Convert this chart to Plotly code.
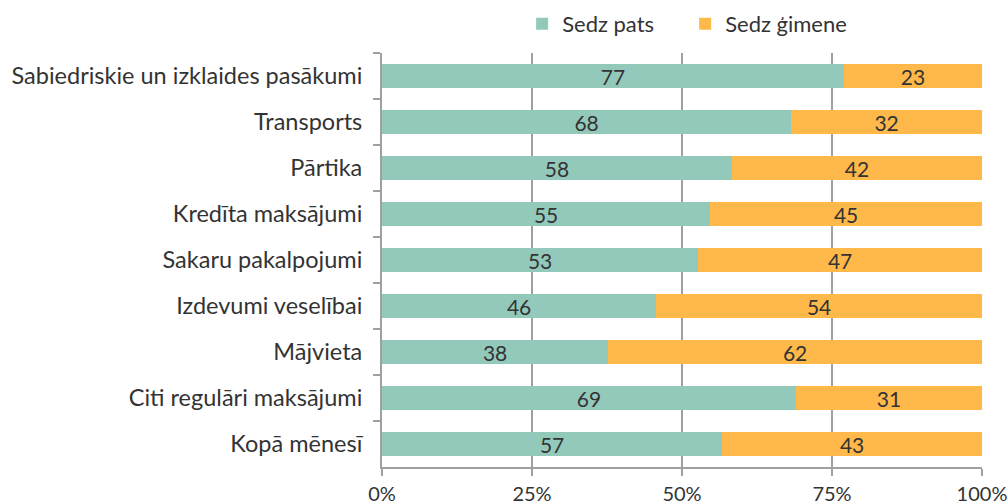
import plotly.graph_objects as go

categories = [
    "Sabiedriskie un izklaides pasākumi",
    "Transports",
    "Pārtika",
    "Kredīta maksājumi",
    "Sakaru pakalpojumi",
    "Izdevumi veselībai",
    "Mājvieta",
    "Citi regulāri maksājumi",
    "Kopā mēnesī",
]
sedz_pats = [77.0, 68.2, 58.3, 54.7, 52.7, 45.7, 37.7, 69.0, 56.7]
sedz_gimene = [23.0, 31.8, 41.7, 45.3, 47.3, 54.3, 62.3, 31.0, 43.3]
x_ticks = [0, 25, 50, 75, 100]
x_tick_labels = ["0%", "25%", "50%", "75%", "100%"]

FONT = "Source Sans Pro, Lato, sans-serif"
TEXT = "#333333"
TEAL = "#93C9BB"
ORANGE = "#FFB94A"
GRID = "#A0A0A0"

fig = go.Figure()
fig.add_trace(go.Bar(
    y=categories, x=sedz_pats, name="Sedz pats", orientation="h",
    marker=dict(color=TEAL, line=dict(width=0)),
    text=sedz_pats, texttemplate="%{x:.0f}", textposition="inside",
    insidetextanchor="middle", textangle=0, constraintext="none",
    textfont=dict(family=FONT, size=21, color=TEXT),
))
fig.add_trace(go.Bar(
    y=categories, x=sedz_gimene, name="Sedz ģimene", orientation="h",
    marker=dict(color=ORANGE, line=dict(width=0)),
    text=sedz_gimene, texttemplate="%{x:.0f}", textposition="inside",
    insidetextanchor="middle", textangle=0, constraintext="none",
    textfont=dict(family=FONT, size=21, color=TEXT),
))

fig.update_layout(
    barmode="stack",
    bargap=0.47,
    width=1008, height=504,
    margin=dict(l=382, r=26, t=53, b=37, autoexpand=False),
    paper_bgcolor="white", plot_bgcolor="white",
    font=dict(family=FONT, size=21, color=TEXT),
    uniformtext=dict(mode="show", minsize=21),
    legend=dict(
        orientation="h", xref="container", x=0.518, xanchor="left",
        yref="container", y=0.994, yanchor="top",
        font=dict(family=FONT, size=22, color=TEXT),
        itemwidth=30, entrywidth=118, entrywidthmode="pixels",
        traceorder="normal", bgcolor="rgba(0,0,0,0)",
    ),
    showlegend=True,
)

fig.update_xaxes(
    range=[0, 100], tickvals=x_ticks, ticktext=x_tick_labels,
    showgrid=True, gridcolor=GRID, gridwidth=2,
    showline=True, linecolor=GRID, linewidth=2,
    ticks="outside", ticklen=7, tickcolor=GRID, tickwidth=2,
    tickfont=dict(family=FONT, size=20, color=TEXT),
    ticklabelstandoff=1, zeroline=False, fixedrange=True, automargin=False,
)
fig.update_yaxes(
    categoryorder="array", categoryarray=categories, autorange="reversed",
    showline=True, linecolor=GRID, linewidth=2,
    ticks="outside", ticklen=7, tickcolor=GRID, tickwidth=2,
    tickson="boundaries",
    tickfont=dict(family=FONT, size=23.5, color=TEXT),
    ticklabelstandoff=13, showgrid=False, fixedrange=True, automargin=False,
)

fig.write_html(
    "out.html",
    config={"displayModeBar": False},
    post_script="document.body.style.margin='0';document.body.style.overflow='hidden';",
)
